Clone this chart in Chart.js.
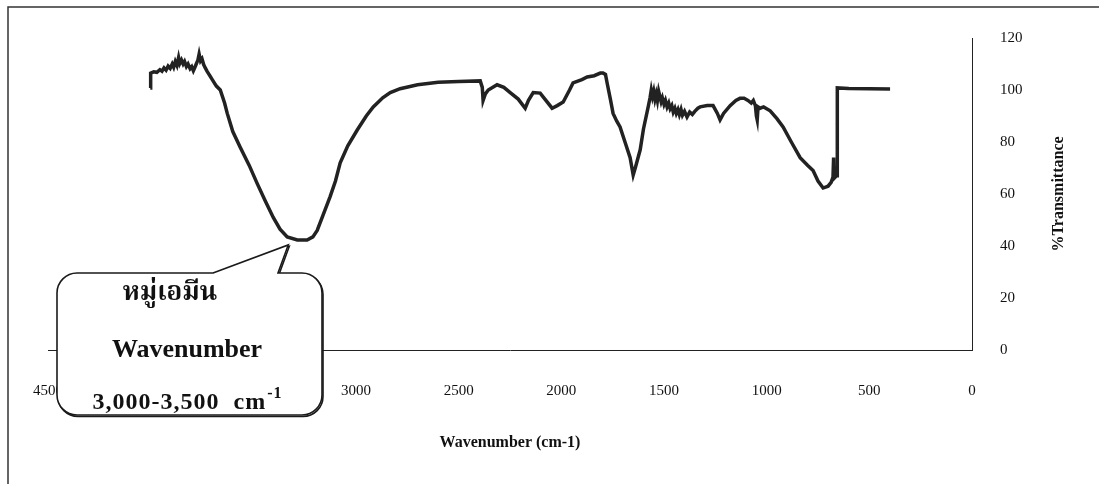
<!DOCTYPE html>
<html>
<head>
<meta charset="utf-8">
<script src="https://cdn.jsdelivr.net/npm/chart.js@4.4.0/dist/chart.umd.min.js"></script>
<style>
    html, body { margin: 0; padding: 0; background: #fff; }
</style>
</head>
<body>
<canvas id="ir-chart" width="1099" height="484"></canvas>
<script>
// IR spectrum
const wavenumbers = [
    4002, 4000, 3985, 3970, 3955, 3945, 3935, 3925, 3915, 3905, 3895, 3888, 3880, 3872, 3864, 3858,
    3850, 3842, 3835, 3826, 3818, 3808, 3800, 3792, 3785, 3778, 3770, 3764, 3757, 3750, 3742, 3734,
    3725, 3712, 3700, 3680, 3661, 3640, 3627, 3600, 3564, 3520, 3481, 3440, 3403, 3370, 3335, 3286,
    3238, 3210, 3189, 3160, 3126, 3100, 3077, 3040, 2994, 2950, 2916, 2870, 2833, 2785, 2700, 2600,
    2500, 2395, 2385, 2381, 2370, 2356, 2313, 2280, 2249, 2210, 2176, 2160, 2137, 2103, 2080, 2045,
    2020, 1991, 1960, 1943, 1900, 1874, 1840, 1810, 1797, 1785, 1777, 1760, 1748, 1730, 1714, 1690,
    1665, 1650, 1640, 1616, 1600, 1577, 1568, 1562, 1556, 1550, 1544, 1538, 1532, 1526, 1520, 1514,
    1508, 1500, 1493, 1485, 1477, 1470, 1462, 1455, 1447, 1440, 1432, 1425, 1417, 1410, 1400, 1388,
    1375, 1362, 1350, 1335, 1324, 1290, 1261, 1240, 1227, 1210, 1178, 1150, 1130, 1110, 1091, 1075,
    1065, 1055, 1050, 1046, 1042, 1032, 1015, 1000, 983, 950, 920, 880, 837, 800, 774, 750,
    725, 701, 686, 677, 674, 672, 660, 657, 656, 600, 500, 399
];
const transmittance = [
    100.8, 106.5, 107, 106.8, 107.8, 107.2, 108.5, 107.6, 109.2, 108.3, 110, 108.8, 111, 109.5, 112.5, 110.2,
    111.5, 110, 111, 109, 110, 108.2, 109, 107.4, 108.6, 110, 111.5, 113.8, 111.2, 112, 109.8, 108.5,
    107.2, 105.5, 104, 101.5, 100, 95, 91, 84, 78, 71, 64, 57, 51, 46.5, 43.5, 42.3,
    42.3, 43.5, 46, 52, 59, 65, 72, 78.5, 84.6, 90, 93.5, 97, 99, 100.5, 102, 103,
    103.3, 103.5, 101, 96, 98.5, 100, 102, 101, 99, 96.5, 93, 96, 99, 98.8, 96.5, 93,
    94, 95.4, 100, 102.7, 104, 105, 105.5, 106.5, 106.5, 106, 102.7, 96, 91, 88, 85.8, 80,
    74, 67.3, 70, 77, 85, 93.5, 97, 100, 97.5, 99.5, 96.5, 98.5, 96, 99.5, 97.5, 95.5,
    97, 94.5, 96, 93.5, 95, 92.8, 94, 91.5, 93, 91, 92.5, 90.5, 92.5, 90.3, 91.8, 89.6,
    91.5, 90.6, 91.8, 93, 93.5, 94, 94, 91, 88.5, 91, 94, 96, 96.8, 96.8, 96, 95,
    96, 94, 90, 88.5, 93.5, 93, 93.5, 92.8, 92, 89, 85.8, 80, 74, 71, 69, 65,
    62.3, 63, 64.5, 66.5, 74, 66, 67, 67, 100.8, 100.6, 100.5, 100.4
];
const xTicks = [4500, 4000, 3500, 3000, 2500, 2000, 1500, 1000, 500, 0];
const yTicks = [0, 20, 40, 60, 80, 100, 120];
const xTitle = 'Wavenumber (cm-1)';
const yTitle = '%Transmittance';
const calloutGroup = 'หมู่เอมีน';
const calloutLabel = 'Wavenumber';
const calloutRange = '3,000-3,500  cm';
const calloutPoint = { x: 3330, y: 40.4 };

const serif = '"Liberation Serif", "Times New Roman", "Noto Serif Thai", "Noto Sans Thai", serif';

const points = wavenumbers.map((w, i) => ({ x: w, y: transmittance[i] }));

// page frame, y title and the callout bubble
const decorations = {
    id: 'decorations',
    beforeDraw(chart) {
        const ctx = chart.ctx;
        ctx.save();
        ctx.strokeStyle = '#333';
        ctx.lineWidth = 1.5;
        ctx.beginPath();
        ctx.moveTo(8, 484);
        ctx.lineTo(8, 7);
        ctx.lineTo(1099, 7);
        ctx.stroke();
        ctx.restore();
    },
    afterDraw(chart) {
        const ctx = chart.ctx;
        const area = chart.chartArea;

        // rotated y title on the far right
        ctx.save();
        ctx.translate(1059, (area.top + area.bottom) / 2);
        ctx.rotate(-Math.PI / 2);
        ctx.font = 'bold 16px ' + serif;
        ctx.fillStyle = '#111';
        ctx.textAlign = 'center';
        ctx.textBaseline = 'middle';
        ctx.fillText(yTitle, 0, 0);
        ctx.restore();

        // callout bubble pointing to the amine band
        const tipX = chart.scales.x.getPixelForValue(calloutPoint.x);
        const tipY = chart.scales.y.getPixelForValue(calloutPoint.y);
        const L = 57, R = 322, T = 273, B = 415, r = 20;
        const bubble = (dx, dy) => {
            ctx.beginPath();
            ctx.moveTo(213 + dx, T + dy);
            ctx.lineTo(tipX + dx, tipY + dy);
            ctx.lineTo(278 + dx, T + dy);
            ctx.arcTo(R + dx, T + dy, R + dx, B + dy, r);
            ctx.arcTo(R + dx, B + dy, L + dx, B + dy, r);
            ctx.arcTo(L + dx, B + dy, L + dx, T + dy, r);
            ctx.arcTo(L + dx, T + dy, R + dx, T + dy, r);
            ctx.closePath();
        };
        ctx.save();
        ctx.strokeStyle = '#1a1a1a';
        ctx.lineWidth = 1.6;
        bubble(1, 1.5);
        ctx.stroke();
        bubble(0, 0);
        ctx.fillStyle = '#fff';
        ctx.fill();
        ctx.stroke();

        ctx.fillStyle = '#111';
        ctx.textAlign = 'center';
        ctx.textBaseline = 'alphabetic';
        ctx.font = 'bold 26px ' + serif;
        ctx.fillText(calloutGroup, 170, 300);
        ctx.fillText(calloutLabel, 187, 357);

        ctx.letterSpacing = '1px';
        ctx.font = 'bold 24px ' + serif;
        const w = ctx.measureText(calloutRange).width;
        ctx.font = 'bold 16px ' + serif;
        const sw = ctx.measureText('-1').width;
        const x0 = 187 - (w + sw) / 2;
        ctx.textAlign = 'left';
        ctx.font = 'bold 24px ' + serif;
        ctx.fillText(calloutRange, x0, 409);
        ctx.font = 'bold 16px ' + serif;
        ctx.fillText('-1', x0 + w + 1, 398);
        ctx.restore();
    }
};

new Chart(document.getElementById('ir-chart').getContext('2d'), {
    type: 'line',
    data: {
        datasets: [{
            data: points,
            borderColor: '#222',
            borderWidth: 3.5,
            pointRadius: 0,
            tension: 0,
            fill: false
        }]
    },
    options: {
        responsive: false,
        animation: false,
        events: [],
        layout: { padding: { left: 48, top: 38, right: 0, bottom: 0 } },
        scales: {
            x: {
                type: 'linear',
                reverse: true,
                min: 0,
                max: 4500,
                afterBuildTicks: s => { s.ticks = xTicks.map(v => ({ value: v })); },
                afterFit: s => { s.height = 134; },
                grid: { display: false, drawTicks: false },
                border: { display: true, color: '#222', width: 1 },
                ticks: {
                    autoSkip: false,
                    maxRotation: 0,
                    padding: 32,
                    color: '#111',
                    font: { family: serif, size: 15 },
                    callback: v => String(v)
                },
                title: {
                    display: true,
                    text: xTitle,
                    color: '#111',
                    font: { family: serif, size: 16, weight: 'bold' },
                    padding: { top: 0, bottom: 32 }
                }
            },
            y: {
                position: 'right',
                min: 0,
                max: 120,
                afterBuildTicks: s => { s.ticks = yTicks.map(v => ({ value: v })); },
                afterFit: s => { s.width = 127; },
                grid: { display: false, drawTicks: false },
                border: { display: true, color: '#222', width: 1 },
                ticks: {
                    padding: 28,
                    color: '#111',
                    font: { family: serif, size: 15 },
                    callback: v => String(v)
                }
            }
        },
        plugins: {
            legend: { display: false },
            tooltip: { enabled: false }
        }
    },
    plugins: [decorations]
});
</script>
</body>
</html>
